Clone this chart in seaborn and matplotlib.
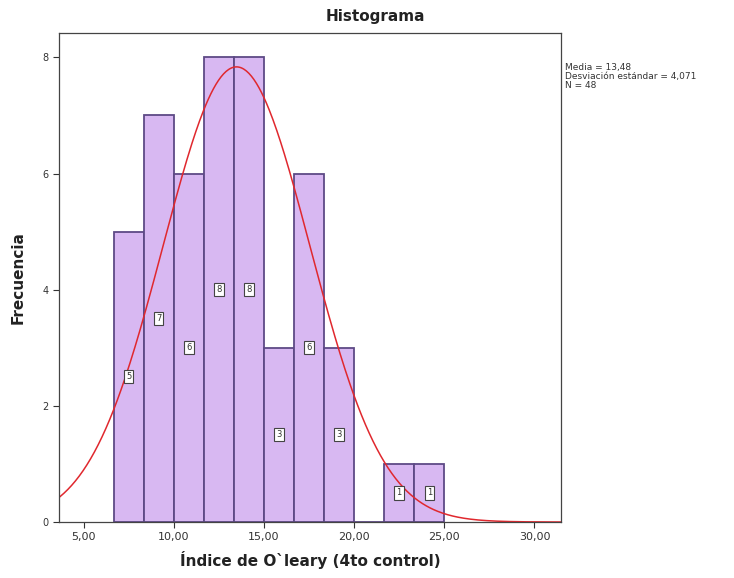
import numpy as np
import pandas as pd
import matplotlib
matplotlib.use("Agg")
import matplotlib.pyplot as plt
import seaborn as sns

# Data
bin_edges = [6.667, 8.333, 10.0, 11.667, 13.333, 15.0, 16.667, 18.333, 20.0, 21.667, 23.333, 25.0]
counts = [5, 7, 6, 8, 8, 3, 6, 3, 0, 1, 1]
mean_val = 13.48
std_val = 4.071
n_val = 48
x_ticks = [5, 10, 15, 20, 25, 30]
x_tick_labels = ["5,00", "10,00", "15,00", "20,00", "25,00", "30,00"]
y_ticks = [0, 2, 4, 6, 8]

sns.set_theme(style="white")
plt.rcParams['font.family'] = ['DejaVu Sans']

centers = [(bin_edges[i] + bin_edges[i + 1]) / 2 for i in range(len(counts))]
df = pd.DataFrame({"x": centers, "w": counts})

fig = plt.figure(figsize=(7.34, 5.78), dpi=100)
ax = fig.add_axes([59 / 734, 56 / 578, (561 - 59) / 734, (522 - 33) / 578])

sns.histplot(data=df, x="x", weights="w", bins=bin_edges, ax=ax,
             color="#D8B8F2", edgecolor="#5E4A86", linewidth=1.3, alpha=1.0)

# Normal curve
xs = np.linspace(3.5, 31.5, 400)
bw = bin_edges[1] - bin_edges[0]
pdf = n_val * bw / (std_val * np.sqrt(2 * np.pi)) * np.exp(-0.5 * ((xs - mean_val) / std_val) ** 2)
sns.lineplot(x=xs, y=pdf, ax=ax, color="#E0282E", linewidth=1.1)

# Count boxes at half height
for c, cnt in zip(centers, counts):
    if cnt > 0:
        ax.text(c, cnt / 2, str(cnt), ha="center", va="center", fontsize=6,
                color="#333333",
                bbox=dict(boxstyle="square,pad=0.25", fc="white", ec="#444444", lw=0.8))

ax.set_xlim(3.64, 31.47)
ax.set_ylim(0, 8.42)
ax.set_xticks(x_ticks)
ax.set_xticklabels(x_tick_labels, fontsize=8, color="#333333")
ax.set_yticks(y_ticks)
ax.set_yticklabels([str(v) for v in y_ticks], fontsize=7, color="#333333")
ax.tick_params(axis="both", direction="out", length=4, width=0.8, colors="#333333",
               bottom=True, left=True)
for s in ax.spines.values():
    s.set_color("#444444")
    s.set_linewidth(0.9)

ax.set_xlabel("Índice de O`leary (4to control)", fontsize=11, fontweight="bold",
              color="#222222", labelpad=6)
ax.set_ylabel("Frecuencia", fontsize=11, fontweight="bold", color="#222222", labelpad=12)

fig.text(375 / 734, 1 - 17 / 578, "Histograma", ha="center", va="center",
         fontsize=11, fontweight="bold", color="#222222")

fig.text(565 / 734, 1 - 63 / 578,
         "Media = 13,48\nDesviación estándar = 4,071\nN = 48",
         ha="left", va="top", fontsize=6.5, color="#333333", linespacing=1.0)

fig.savefig("out.png", dpi=100)
